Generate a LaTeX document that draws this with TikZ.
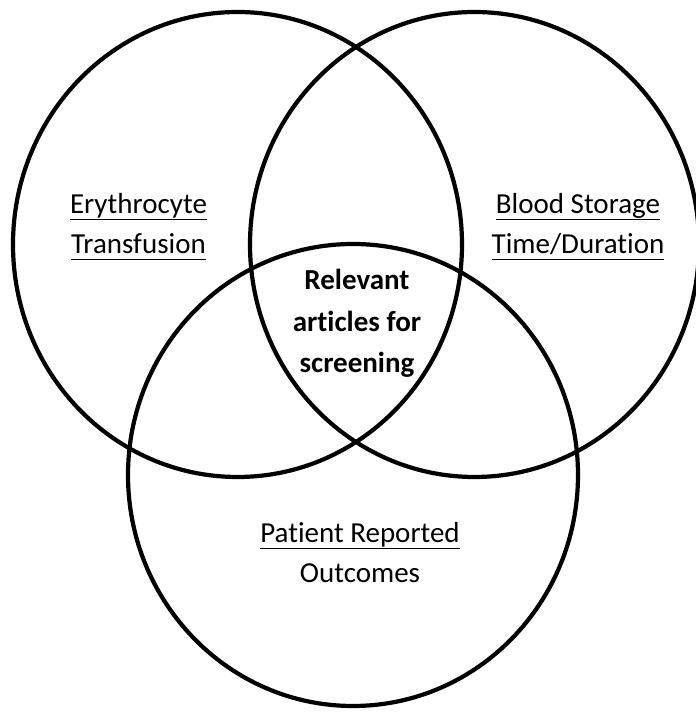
\documentclass[tikz,border=0pt]{standalone}
\usepackage{fontspec}
\setmainfont[Ligatures={NoCommon}]{Carlito}
\usetikzlibrary{shapes.geometric}
\newsavebox{\myulbox}
\newcommand{\myul}[1]{\sbox{\myulbox}{#1}\rlap{\rule[-6pt]{\wd\myulbox}{1.4pt}}\usebox{\myulbox}}
\tikzset{
  setcircle/.style={draw=black, line width=4.2pt, ellipse, inner sep=0pt, fill=none},
  lbl/.style={anchor=base, inner sep=0pt, font=\fontsize{29}{40}\selectfont, text=black},
  blbl/.style={lbl, font=\fontsize{29}{40}\selectfont\bfseries}
}
\begin{document}
\begin{tikzpicture}[x=1pt,y=1pt]
\useasboundingbox (0,0) rectangle (696,713);
\node[setcircle, minimum width=449pt, minimum height=465pt] (left) at (237.5,468.5) {};
\node[setcircle, minimum width=449pt, minimum height=465pt] (right) at (474.5,468.5) {};
\node[setcircle, minimum width=450pt, minimum height=462pt] (bottom) at (353,238) {};
\node[lbl] (e1) at (138.5,499) {\myul{Erythrocyte}};
\node[lbl] (e2) at (138.5,459) {\myul{Transfusion}};
\node[lbl] (b1) at (578,499) {\myul{Blood Storage}};
\node[lbl] (b2) at (578,459) {\myul{Time/Duration}};
\node[lbl] (p1) at (360,170) {\myul{Patient Reported}};
\node[lbl] (p2) at (360,130) {Outcomes};
\node[blbl] (c1) at (357,423) {Relevant};
\node[blbl] (c2) at (357,381) {articles for};
\node[blbl] (c3) at (357,340) {screening};
\end{tikzpicture}
\end{document}
